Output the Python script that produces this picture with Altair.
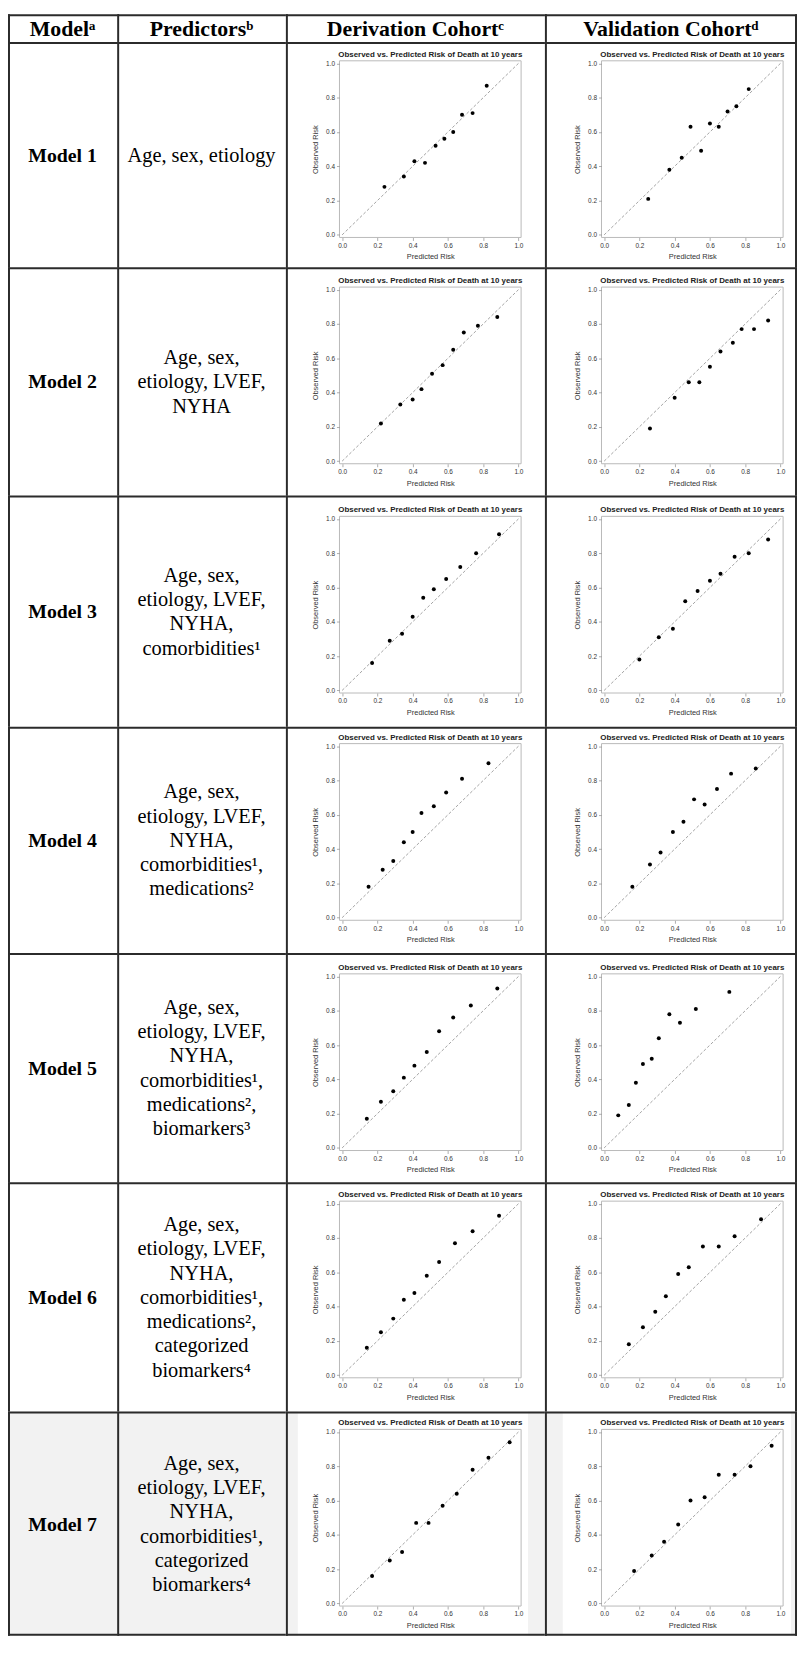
import altair as alt
import pandas as pd

# ---------------- text ----------------
HEADERS = ["Modelᵃ", "Predictorsᵇ", "Derivation Cohortᶜ", "Validation Cohortᵈ"]
MODELS = ["Model 1", "Model 2", "Model 3", "Model 4", "Model 5", "Model 6", "Model 7"]
PREDICTORS = [
    "Age, sex, etiology",
    "Age, sex,\netiology, LVEF,\nNYHA",
    "Age, sex,\netiology, LVEF,\nNYHA,\ncomorbidities¹",
    "Age, sex,\netiology, LVEF,\nNYHA,\ncomorbidities¹,\nmedications²",
    "Age, sex,\netiology, LVEF,\nNYHA,\ncomorbidities¹,\nmedications²,\nbiomarkers³",
    "Age, sex,\netiology, LVEF,\nNYHA,\ncomorbidities¹,\nmedications²,\ncategorized\nbiomarkers⁴",
    "Age, sex,\netiology, LVEF,\nNYHA,\ncomorbidities¹,\ncategorized\nbiomarkers⁴",
]
PLOT_TITLE = "Observed vs. Predicted Risk of Death at 10 years"
X_TITLE = "Predicted Risk"
Y_TITLE = "Observed Risk"
TICKS = [0.0, 0.2, 0.4, 0.6, 0.8, 1.0]
DIAGONAL = [0.0, 1.0]

# ---------------- data (predicted, observed) ----------------
m1_der_pred = [0.24, 0.35, 0.41, 0.47, 0.53, 0.58, 0.63, 0.68, 0.74, 0.82]
m1_der_obs = [0.28, 0.34, 0.43, 0.42, 0.52, 0.56, 0.60, 0.70, 0.71, 0.87]
m1_val_pred = [0.25, 0.37, 0.44, 0.49, 0.55, 0.60, 0.65, 0.70, 0.75, 0.82]
m1_val_obs = [0.21, 0.38, 0.45, 0.63, 0.49, 0.65, 0.63, 0.72, 0.75, 0.85]

m2_der_pred = [0.22, 0.33, 0.40, 0.45, 0.51, 0.57, 0.63, 0.69, 0.77, 0.88]
m2_der_obs = [0.22, 0.33, 0.36, 0.42, 0.51, 0.56, 0.65, 0.75, 0.79, 0.84]
m2_val_pred = [0.26, 0.40, 0.48, 0.54, 0.60, 0.66, 0.73, 0.78, 0.85, 0.93]
m2_val_obs = [0.19, 0.37, 0.46, 0.46, 0.55, 0.64, 0.69, 0.77, 0.77, 0.82]

m3_der_pred = [0.17, 0.27, 0.34, 0.40, 0.46, 0.52, 0.59, 0.67, 0.76, 0.89]
m3_der_obs = [0.16, 0.29, 0.33, 0.43, 0.54, 0.59, 0.65, 0.72, 0.80, 0.91]
m3_val_pred = [0.20, 0.31, 0.39, 0.46, 0.53, 0.60, 0.66, 0.74, 0.82, 0.93]
m3_val_obs = [0.18, 0.31, 0.36, 0.52, 0.58, 0.64, 0.68, 0.78, 0.80, 0.88]

m4_der_pred = [0.15, 0.23, 0.29, 0.35, 0.40, 0.45, 0.52, 0.59, 0.68, 0.83]
m4_der_obs = [0.18, 0.28, 0.33, 0.44, 0.50, 0.61, 0.65, 0.73, 0.81, 0.90]
m4_val_pred = [0.16, 0.26, 0.32, 0.39, 0.45, 0.51, 0.57, 0.64, 0.72, 0.86]
m4_val_obs = [0.18, 0.31, 0.38, 0.50, 0.56, 0.69, 0.66, 0.75, 0.84, 0.87]

m5_der_pred = [0.14, 0.22, 0.29, 0.35, 0.41, 0.48, 0.55, 0.63, 0.73, 0.88]
m5_der_obs = [0.17, 0.27, 0.33, 0.41, 0.48, 0.56, 0.68, 0.76, 0.83, 0.93]
m5_val_pred = [0.08, 0.14, 0.18, 0.22, 0.27, 0.31, 0.37, 0.43, 0.52, 0.71]
m5_val_obs = [0.19, 0.25, 0.38, 0.49, 0.52, 0.64, 0.78, 0.73, 0.81, 0.91]

m6_der_pred = [0.14, 0.22, 0.29, 0.35, 0.41, 0.48, 0.55, 0.64, 0.74, 0.89]
m6_der_obs = [0.16, 0.25, 0.33, 0.44, 0.48, 0.58, 0.66, 0.77, 0.84, 0.93]
m6_val_pred = [0.14, 0.22, 0.29, 0.35, 0.42, 0.48, 0.56, 0.65, 0.74, 0.89]
m6_val_obs = [0.18, 0.28, 0.37, 0.46, 0.59, 0.63, 0.75, 0.75, 0.81, 0.91]

m7_der_pred = [0.17, 0.27, 0.34, 0.42, 0.49, 0.57, 0.65, 0.74, 0.83, 0.95]
m7_der_obs = [0.16, 0.25, 0.30, 0.47, 0.47, 0.57, 0.64, 0.78, 0.85, 0.94]
m7_val_pred = [0.17, 0.27, 0.34, 0.42, 0.49, 0.57, 0.65, 0.74, 0.83, 0.95]
m7_val_obs = [0.19, 0.28, 0.36, 0.46, 0.60, 0.62, 0.75, 0.75, 0.80, 0.92]

DERIVATION = [
    (m1_der_pred, m1_der_obs), (m2_der_pred, m2_der_obs), (m3_der_pred, m3_der_obs),
    (m4_der_pred, m4_der_obs), (m5_der_pred, m5_der_obs), (m6_der_pred, m6_der_obs),
    (m7_der_pred, m7_der_obs),
]
VALIDATION = [
    (m1_val_pred, m1_val_obs), (m2_val_pred, m2_val_obs), (m3_val_pred, m3_val_obs),
    (m4_val_pred, m4_val_obs), (m5_val_pred, m5_val_obs), (m6_val_pred, m6_val_obs),
    (m7_val_pred, m7_val_obs),
]

# ---------------- layout / style ----------------
COL_W = [110, 170, 261, 254]
HEAD_H = 28
ROW_H = [227, 230, 233, 228, 231, 231, 226]
TOP_M = [19, 20, 21, 17, 21, 19, 18]
PW, PH = 183, 178
LEFT_M = {"der": 54, "val": 57}
WHITE_SPAN = {"der": (12, 244), "val": (18, 248)}
LINE = 2
LINE_COLOR = "#2b2b2b"
SHADE = "#f2f2f2"
SERIF = "Liberation Serif"
SANS = "Liberation Sans"
LINE_H = 24.5
N_ROWS = len(MODELS)


def one_row():
    return alt.Chart(pd.DataFrame({"cell": [0]}))


def box(x1, y1, x2, y2, fill, opacity=1.0):
    return one_row().mark_rect(fill=fill, fillOpacity=opacity).encode(
        x=alt.value(x1), x2=alt.value(x2), y=alt.value(y1), y2=alt.value(y2)
    )


def cell_frame(ox, oy, W, H, shaded, right, bottom, white=None):
    # invisible box that fixes the cell's extent
    layers = [box(ox, oy, ox + W, oy + H, "white", 0.0)]
    if shaded:
        if white is None:
            layers.append(box(ox, oy, ox + W, oy + H, SHADE))
        else:
            layers.append(box(ox, oy, ox + white[0], oy + H, SHADE))
            layers.append(box(ox + white[1], oy, ox + W, oy + H, SHADE))
    layers.append(box(ox, oy, ox + LINE, oy + H, LINE_COLOR))
    layers.append(box(ox, oy, ox + W, oy + LINE, LINE_COLOR))
    if right:
        layers.append(box(ox + W - LINE, oy, ox + W, oy + H, LINE_COLOR))
    if bottom:
        layers.append(box(ox, oy + H - LINE, ox + W, oy + H, LINE_COLOR))
    return layers


def text_cell(text, W, H, size, weight, shaded, top=0, right=False, bottom=False):
    # origin sits 'top' px below the cell's top edge, like the plot cells' origin
    n_lines = text.count("\n") + 1
    y_first = -top + H / 2 + 1 - (n_lines - 1) * LINE_H / 2
    txt = alt.Chart(pd.DataFrame({"label": [text]})).mark_text(
        font=SERIF, fontSize=size, fontWeight=weight, lineBreak="\n",
        lineHeight=LINE_H, align="center", baseline="middle", color="black",
    ).encode(x=alt.value(W / 2), y=alt.value(y_first), text="label:N")
    layers = cell_frame(0, -top, W, H, shaded, right, bottom) + [txt]
    return alt.layer(*layers).properties(width=W, height=H - top)


def plot_cell(pred, obs, kind, row):
    H = ROW_H[row]
    W = COL_W[2] if kind == "der" else COL_W[3]
    t = TOP_M[row]
    l = LEFT_M[kind]
    shaded = row == N_ROWS - 1
    frame_layers = cell_frame(-l, -t, W, H, shaded, kind == "val", row == N_ROWS - 1,
                              WHITE_SPAN[kind])

    scale = alt.Scale(domain=[-0.015, 1.015], nice=False, zero=False)
    x_enc = alt.X("pred:Q", scale=scale,
                  axis=alt.Axis(values=TICKS, format=".1f", title=X_TITLE,
                                titlePadding=4, zindex=1))
    y_enc = alt.Y("obs:Q", scale=scale,
                  axis=alt.Axis(values=TICKS, format=".1f", title=Y_TITLE,
                                titlePadding=6, zindex=1))

    title = alt.Chart(pd.DataFrame({"label": [PLOT_TITLE]})).mark_text(
        font=SANS, fontSize=8, fontWeight="bold", color="#222222",
        align="center", baseline="alphabetic",
    ).encode(x=alt.value(PW / 2), y=alt.value(-4), text="label:N")
    plot_frame = one_row().mark_rect(filled=False, color="#b9b9b9", strokeWidth=1).encode(
        x=alt.value(0), x2=alt.value(PW), y=alt.value(0), y2=alt.value(PH)
    )
    diag = alt.Chart(pd.DataFrame({"pred": DIAGONAL, "obs": DIAGONAL})).mark_line(
        color="#8c8c8c", strokeWidth=0.8, strokeDash=[3, 2]
    ).encode(x=x_enc, y=y_enc)
    pts = alt.Chart(pd.DataFrame({"pred": pred, "obs": obs})).mark_circle(
        size=16, color="black", opacity=1
    ).encode(x=x_enc, y=y_enc)

    return alt.layer(*frame_layers, title, plot_frame, diag, pts).properties(
        width=PW, height=PH,
    )


rows = [alt.hconcat(
    *[text_cell(HEADERS[i], COL_W[i], HEAD_H, 22, "bold", False, right=(i == 3))
      for i in range(4)],
    spacing=0,
)]
for r in range(N_ROWS):
    shaded = r == N_ROWS - 1
    rows.append(alt.hconcat(
        text_cell(MODELS[r], COL_W[0], ROW_H[r], 20, "bold", shaded, top=TOP_M[r],
                  bottom=shaded),
        text_cell(PREDICTORS[r], COL_W[1], ROW_H[r], 20.5, "normal", shaded, top=TOP_M[r],
                  bottom=shaded),
        plot_cell(DERIVATION[r][0], DERIVATION[r][1], "der", r),
        plot_cell(VALIDATION[r][0], VALIDATION[r][1], "val", r),
        spacing=0,
    ))

chart = alt.vconcat(*rows, spacing=0).properties(
    padding=0, background="white"
).configure_view(
    strokeWidth=0, strokeOpacity=0
).configure_axis(
    labelFont=SANS, labelFontSize=6.5, labelColor="#333333", labelPadding=2,
    tickColor="#9a9a9a", tickSize=3, tickWidth=0.8, domain=False, grid=False,
    titleFont=SANS, titleFontSize=7.5, titleFontWeight="normal", titleColor="#333333",
)

chart.save("out.html", embed_options={"renderer": "svg", "actions": False})
